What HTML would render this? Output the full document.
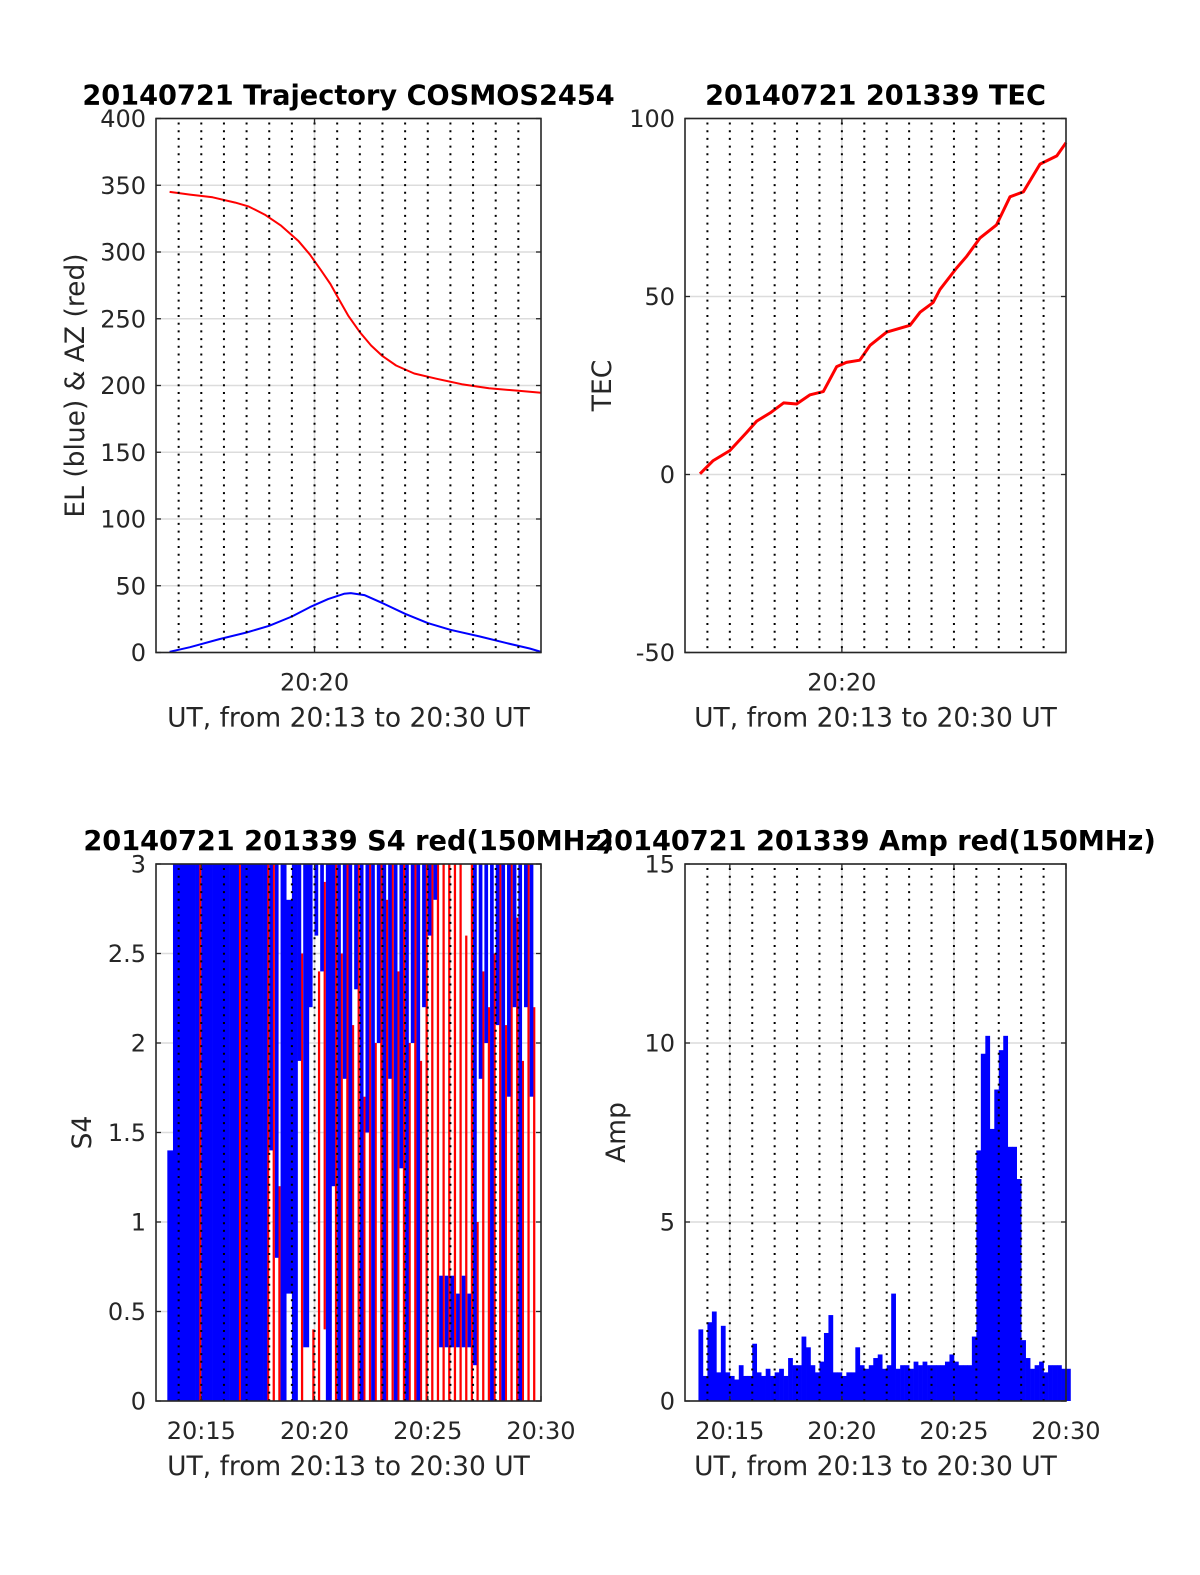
<!DOCTYPE html>
<html><head><meta charset="utf-8">
<style>
html,body{margin:0;padding:0;background:#fff;overflow:hidden;width:1200px;height:1575px;}
svg{display:block;}
text{font-family:"DejaVu Sans","Liberation Sans",sans-serif;fill:#262626;}
.title{font-weight:bold;fill:#000;font-size:27.2px;}
.tick{font-size:24px;}
.lab{font-size:26.5px;}
</style></head>
<body>
<svg id="fig" width="1200" height="1575" viewBox="0 0 1200 1575" xmlns="http://www.w3.org/2000/svg">
<rect width="1200" height="1575" fill="#fff"/>
</svg>
<script>
// ---- data ----
const elTimes = [13.6, 14.5, 15.8, 17.0, 18.0, 19.0, 19.8, 20.6, 21.3, 21.6, 22.2, 23.0, 24.0, 25.0, 26.0, 27.3, 28.5, 29.5, 30.0];
const elValues = [0.5, 4, 10, 15, 20, 27, 34, 40, 44, 44.5, 43, 37, 29, 22, 17, 12, 7, 3, 0.5];
const azTimes = [13.6, 14.5, 15.5, 16.5, 17.1, 17.8, 18.5, 19.3, 19.8, 20.3, 20.7, 21.1, 21.5, 22.0, 22.5, 23.0, 23.6, 24.4, 25.4, 26.5, 27.7, 29.0, 30.0];
const azValues = [345, 343, 341, 337, 334, 328, 320, 308, 298, 286, 276, 264, 252, 240, 230, 222, 215, 209, 205, 201, 198, 196, 194.5];
const tecTimes = [13.67, 14.26, 15.0, 15.75, 16.2, 16.8, 17.4, 17.98, 18.58, 19.17, 19.77, 20.2, 20.8, 21.26, 22.0, 23.04, 23.49, 24.07, 24.38, 25.12, 25.57, 26.16, 26.9, 27.5, 28.1, 28.84, 29.59, 30.0];
const tecValues = [0.2, 3.9, 6.7, 11.8, 15, 17.3, 20.1, 19.8, 22.4, 23.3, 30.3, 31.5, 32.1, 36.3, 40, 41.9, 45.6, 48.3, 52, 58, 61.3, 66.4, 70.1, 78, 79.4, 87.2, 89.5, 93.2];
// S4: bins of 0.25 min starting 20:13.00
const s4BinStart = 13.0;
const s4BinWidth = 0.25;
const s4BlueLo = [null,null,0,0,0,0,0,0,0,0,0,0,0,0,0,0,0,0,0,0,1.4,0.8,0,0.6,0,1.9,0.3,2.2,2.6,2.4,0,1.2,0,1.8,0,2.3,0,1.5,0,2.0,0,1.8,0,1.3,0,2.0,0,2.2,2.6,2.8,0.3,0.3,0.3,0.3,0.3,0.3,0.2,1.8,2.0,0,2.1,0,1.7,2.2,0,2.2,1.7];
const s4BlueHi = [null,null,1.4,3,3,3,3,3,3,3,3,3,3,3,3,3,3,3,3,3,3,3,3,2.8,3,3,3,3,3,3,3,3,3,3,3,3,3,3,3,3,3,3,3,3,3,3,3,3,3,3,0.7,0.7,0.7,0.6,0.7,0.6,3,3,3,3,3,3,3,3,3,3,3];
const s4RedLo = [null,null,null,null,null,null,null,0,null,null,null,null,null,null,0,null,null,null,null,0,0,0,null,null,null,0,null,0,0,0.4,null,0,0,0,0,0,0,0,0,0,0,0,0,0,0,0,0,0,0,0,0,0,0,0,0,0,0,0,0,0,0,0,0,0,0,0,0];
const s4RedHi = [null,null,null,null,null,null,null,3,null,null,null,null,null,null,3,null,null,null,null,3,3,1.2,null,null,null,2.5,null,0.4,2.4,2.9,null,3,2.5,3,2.1,3,1.7,3,2.0,3,2.8,3,2.4,3,2.0,3,1.9,3,3,3,3,3,3,3,2.6,3,1,2.4,2.2,2.5,3,2.1,3,2.7,1.9,3,2.2];
// Amp: samples every 0.2 min from 20:13.6
const ampStart = 13.6;
const ampStep = 0.2;
const ampValues = [2.0,0.7,2.2,2.5,0.8,2.1,0.8,0.7,0.6,1.0,0.7,0.7,1.6,0.8,0.7,0.9,0.7,0.8,0.9,0.7,1.2,1.0,1.0,1.8,1.5,1.0,0.8,1.1,1.9,2.4,0.8,0.8,0.7,0.8,0.8,1.5,1.0,0.9,1.0,1.2,1.3,0.9,1.0,3.0,0.9,1.0,1.0,0.9,1.1,1.0,1.1,1.0,1.0,1.0,1.0,1.1,1.3,1.1,1.0,1.0,1.0,1.8,7.0,9.7,10.2,7.6,8.7,9.8,10.2,7.1,7.1,6.2,1.7,1.2,0.9,1.0,1.1,0.8,1.0,1.0,1.0,0.9,0.9];
const azTicks = [0,50,100,150,200,250,300,350,400];
const tecTicks = [-50,0,50,100];
const s4Ticks = [0,0.5,1,1.5,2,2.5,3];
const s4TickLabels = ['0','0.5','1','1.5','2','2.5','3'];
const ampTicks = [0,5,10,15];
const timeTicksTop = [20];
const timeTicksBottom = [15,20,25,30];

const NS='http://www.w3.org/2000/svg';
const fig=document.getElementById('fig');
function mk(tag,attrs,parent){const e=document.createElementNS(NS,tag);for(const k in attrs)e.setAttribute(k,attrs[k]);(parent||fig).appendChild(e);return e;}

function panel(o){
  const g=mk('g',{});
  
  
  const xs=t=>o.x0+(t-13)/(17)*(o.x1-o.x0);
  const ys=v=>o.y1-(v-o.ymin)/(o.ymax-o.ymin)*(o.y1-o.y0);
  o.yticks.forEach(v=>{const l=mk('line',{x1:o.x0,x2:o.x1,y1:ys(v),y2:ys(v),stroke:'#dcdcdc','stroke-width':1.5},g);
    });
  o.xticks.forEach(m=>{const l=mk('line',{x1:xs(m),x2:xs(m),y1:o.y0,y2:o.y1,stroke:'#dcdcdc','stroke-width':1.5},g);
    });
  o.xs=xs;o.ys=ys;o.g=g;
  o.draw(o);
  for(let m=14;m<=29;m++){const l=mk('line',{x1:xs(m),x2:xs(m),y1:o.y0+4,y2:o.y1,stroke:'#000','stroke-width':2,'stroke-dasharray':'2,5.7'},g);
    }
  const b=mk('rect',{x:o.x0,y:o.y0,width:o.x1-o.x0,height:o.y1-o.y0,fill:'none',stroke:'#262626','stroke-width':1.6},g);
  
  o.yticks.forEach((v,i)=>{
    mk('line',{x1:o.x0,x2:o.x0+5,y1:ys(v),y2:ys(v),stroke:'#262626','stroke-width':1.3},g);
    mk('line',{x1:o.x1-5,x2:o.x1,y1:ys(v),y2:ys(v),stroke:'#262626','stroke-width':1.3},g);
    const t=mk('text',{x:o.x0-10,y:ys(v)+8.5,'text-anchor':'end',class:'tick'},g);t.textContent=o.ylabels?o.ylabels[i]:String(v);
    
  });
  o.xticks.forEach(m=>{
    mk('line',{x1:xs(m),x2:xs(m),y1:o.y1-5,y2:o.y1,stroke:'#262626','stroke-width':1.3},g);
    mk('line',{x1:xs(m),x2:xs(m),y1:o.y0,y2:o.y0+5,stroke:'#262626','stroke-width':1.3},g);
    const t=mk('text',{x:xs(m),y:o.y1+38,'text-anchor':'middle',class:'tick'},g);t.textContent='20:'+m;
    
  });
  const cx=(o.x0+o.x1)/2;
  const tt=mk('text',{x:cx+o.tdx,y:o.y0-14,'text-anchor':'middle',class:'title'},g);tt.textContent=o.title;
  
  const xl=mk('text',{x:cx,y:o.y1+74,'text-anchor':'middle',class:'lab'},g);xl.textContent='UT, from 20:13 to 20:30 UT';
  
  const yl=mk('text',{x:0,y:0,'text-anchor':'middle',class:'lab',transform:`translate(${o.ylx},${(o.y0+o.y1)/2}) rotate(-90)`},g);yl.textContent=o.ylabel;
  
}
function poly(o,ts,vs,color,name,w){
  const p=mk('polyline',{points:ts.map((t,i)=>o.xs(t).toFixed(1)+','+o.ys(vs[i]).toFixed(1)).join(' '),fill:'none',stroke:color,'stroke-width':w||2,'stroke-linejoin':'round'},o.g);
  
}
panel({name:'trajectory-panel',x0:156,x1:541,y0:118.5,y1:652.5,ymin:0,ymax:400,yticks:azTicks,xticks:timeTicksTop,
  title:'20140721 Trajectory COSMOS2454',tdx:0,ylabel:'EL (blue) & AZ (red)',ylx:84,
  draw:o=>{poly(o,azTimes,azValues,'#ff0000','azimuth-line');poly(o,elTimes,elValues,'#0000ff','elevation-line');}});
panel({name:'tec-panel',x0:685,x1:1066,y0:118.5,y1:652.5,ymin:-50,ymax:100,yticks:tecTicks,xticks:timeTicksTop,
  title:'20140721 201339 TEC',tdx:0,ylabel:'TEC',ylx:611,
  draw:o=>{poly(o,tecTimes,tecValues,'#ff0000','tec-line',3);}});
panel({name:'s4-panel',x0:156,x1:541,y0:864,y1:1401,ymin:0,ymax:3,yticks:s4Ticks,ylabels:s4TickLabels,xticks:timeTicksBottom,
  title:'20140721 201339 S4 red(150MHz)',tdx:0,ylabel:'S4',ylx:91,
  draw:o=>{
    for(let i=0;i<s4BlueHi.length;i++){
      const t0=s4BinStart+i*s4BinWidth, t1=t0+s4BinWidth;
      const hasB=s4BlueHi[i]!==null, hasR=s4RedHi[i]!==null;
      const xa=o.xs(t0), xb=o.xs(t1), xm=(hasB&&hasR)?xa+(xb-xa)*0.6:null;
      if(hasR){const r=mk('rect',{x:hasB?xm:xa,y:o.ys(s4RedHi[i]),width:hasB?xb-xm:xb-xa,height:o.ys(s4RedLo[i])-o.ys(s4RedHi[i]),fill:'#ff0000'},o.g);
        }
      if(hasB){const r=mk('rect',{x:xa,y:o.ys(s4BlueHi[i]),width:(hasR?xm:xb)-xa+0.3,height:o.ys(s4BlueLo[i])-o.ys(s4BlueHi[i]),fill:'#0000ff'},o.g);
        }
    }
  }});
panel({name:'amp-panel',x0:685,x1:1066,y0:864,y1:1401,ymin:0,ymax:15,yticks:ampTicks,xticks:timeTicksBottom,
  title:'20140721 201339 Amp red(150MHz)',tdx:0,ylabel:'Amp',ylx:625,
  draw:o=>{
    ampValues.forEach((v,i)=>{const t=ampStart+i*ampStep;
      const r=mk('rect',{x:o.xs(t),y:o.ys(v),width:o.xs(t+ampStep)-o.xs(t)+0.3,height:o.ys(0)-o.ys(v),fill:'#0000ff'},o.g);
      });
  }});
</script>
</body></html>
